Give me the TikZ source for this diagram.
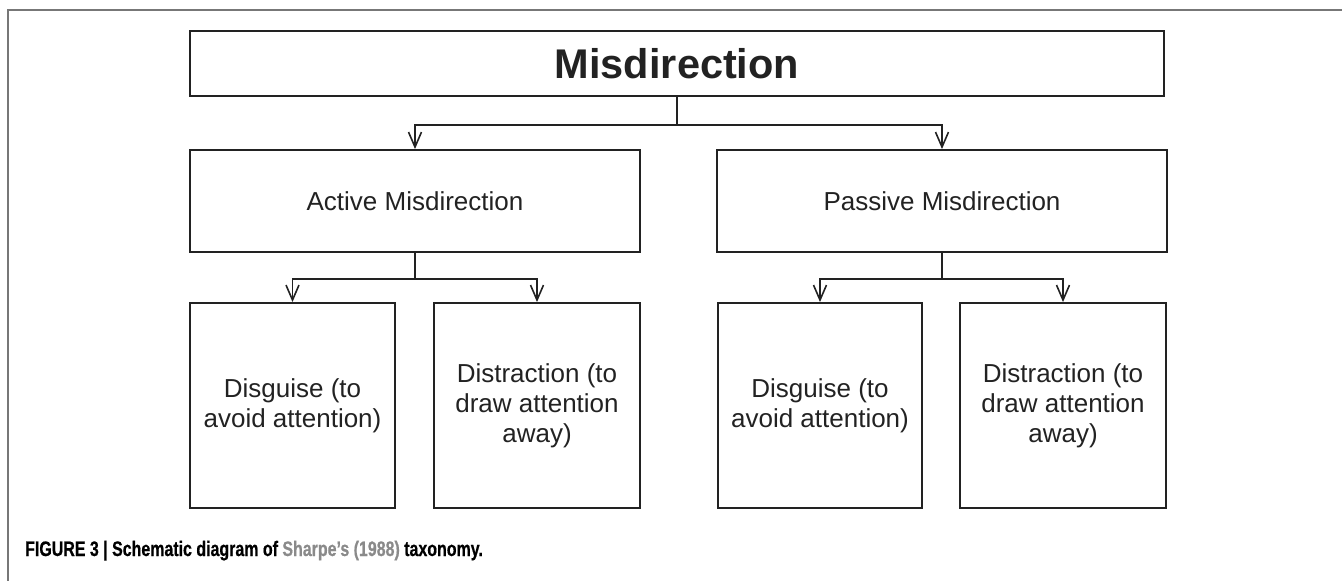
\documentclass[tikz,border=0pt]{standalone}
\usepackage{fontspec}
\setmainfont{Liberation Sans}
\newfontfamily\capfont[FakeStretch=0.76,FakeBold=0.6]{Liberation Sans Bold}
\usetikzlibrary{arrows.meta}
\definecolor{ink}{HTML}{222222}
\definecolor{framegray}{HTML}{777777}
\definecolor{citegray}{HTML}{8A8A8A}

\begin{document}
\begin{tikzpicture}[x=1pt,y=-1pt,
  box/.style={draw=ink, line width=1.9pt, inner sep=0pt, align=center,
    font=\fontsize{26}{30}\selectfont, text=ink},
  link/.style={draw=ink, line width=1.7pt},
  tip/.style={-{Straight Barb[length=15pt,width=13pt,line width=1.6pt]}}
]
\useasboundingbox (0,0) rectangle (1342,581);
% page frame
\draw[framegray, line width=1.5pt] (8,581) -- (8,10) -- (1342,10);

% boxes
\node[box, minimum width=974pt, minimum height=65pt,
  font=\bfseries\fontsize{41.5}{48}\selectfont] (top) at (677,63.5) {Misdirection};
\node[box, minimum width=450pt, minimum height=102pt] (active) at (415,201) {Active Misdirection};
\node[box, minimum width=450pt, minimum height=102pt] (passive) at (942,201) {Passive Misdirection};

\node[box, minimum width=205pt, minimum height=205pt] (d1) at (292.5,405.5) {Disguise (to\\avoid attention)};
\node[box, minimum width=206pt, minimum height=205pt] (x1) at (537,405.5) {Distraction (to\\draw attention\\away)};
\node[box, minimum width=204pt, minimum height=205pt] (d2) at (820,405.5) {Disguise (to\\avoid attention)};
\node[box, minimum width=206pt, minimum height=205pt] (x2) at (1063,405.5) {Distraction (to\\draw attention\\away)};

% connectors
\draw[link] (top.south) -- ++(0,28) coordinate (tj);
\draw[link, tip] (tj) -| (active.north);
\draw[link, tip] (tj) -| (passive.north);

\draw[link] (active.south) -- ++(0,26) coordinate (aj);
\draw[link, tip] (aj) -| (d1.north);
\draw[link, tip] (aj) -| (x1.north);

\draw[link] (passive.south) -- ++(0,26) coordinate (pj);
\draw[link, tip] (pj) -| (d2.north);
\draw[link, tip] (pj) -| (x2.north);

% caption
\node[anchor=base west, inner sep=0pt, text=black] (cap) at (25,556)
  {\capfont\fontsize{21}{25}\selectfont FIGURE 3 | Schematic diagram of \textcolor{citegray}{Sharpe’s (1988)} taxonomy.};
\end{tikzpicture}
\end{document}
